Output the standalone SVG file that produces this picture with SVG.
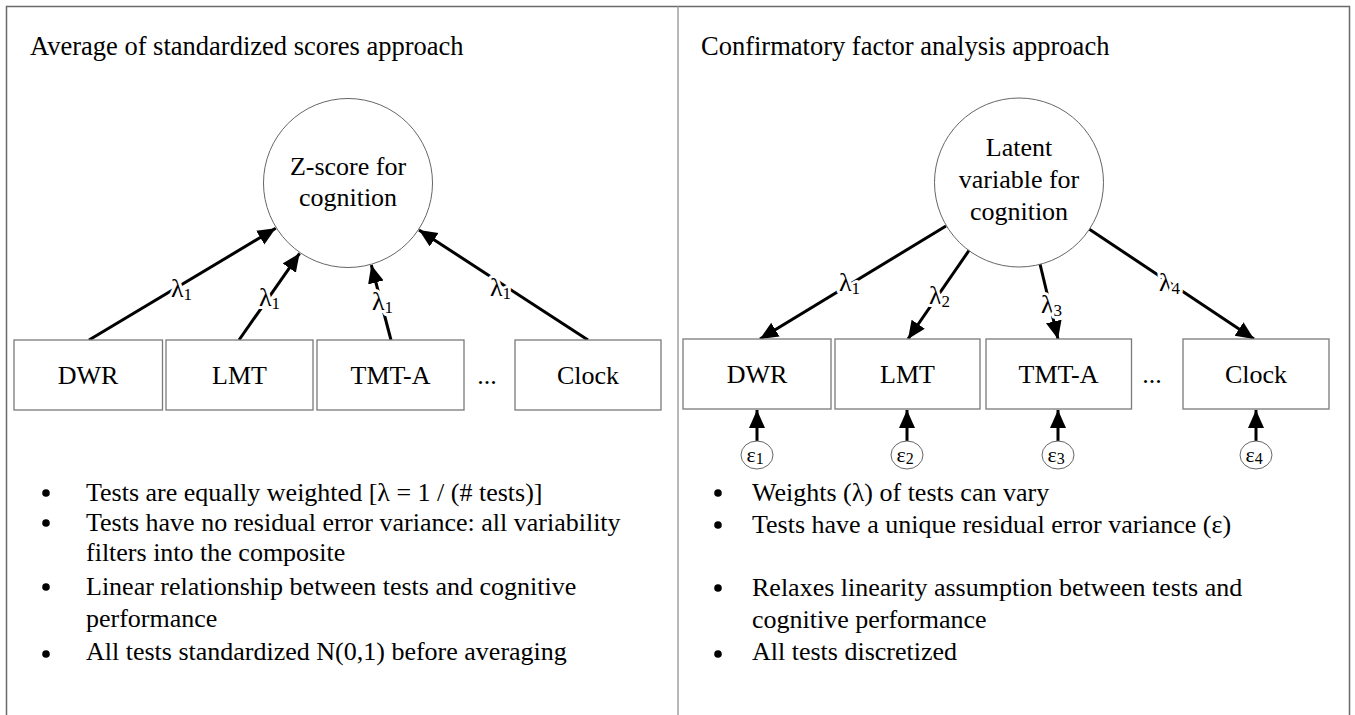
<svg xmlns="http://www.w3.org/2000/svg" width="1355" height="715" viewBox="0 0 1355 715">
<defs>
<style>
text{font-family:"Liberation Serif","Times New Roman",serif;fill:#000}
.t{font-size:26px}
.ttl{font-size:26.5px}
.lab{font-size:26px;text-anchor:middle}
.lam{font-size:26px;stroke:#fff;stroke-width:6px;paint-order:stroke;stroke-linejoin:round}
.eps{font-size:22px;text-anchor:middle}
.box{fill:#fff;stroke:#7a7a7a;stroke-width:1.3}
.circ{fill:#fff;stroke:#666;stroke-width:1}
.edge{stroke:#000;stroke-width:3;fill:none;marker-end:url(#ah)}
.frame{stroke:#6a6a6a;stroke-width:1.5;fill:none}
</style>
<marker id="ah" markerUnits="userSpaceOnUse" markerWidth="20" markerHeight="18" refX="18" refY="8" orient="auto">
<path d="M0,0 L18,8 L0,16 z" fill="#000"/>
</marker>
</defs>
<rect width="1355" height="715" fill="#fff"/>
<g id="frame">
<path class="frame" d="M6.5,715 V6.5 H1349.5 V715"/>
<line x1="678" y1="6.5" x2="678" y2="715" stroke="#a0a0a0" stroke-width="1.5"/>
</g>
<g id="titles">
<text class="ttl" x="30" y="55">Average of standardized scores approach</text>
<text class="ttl" x="701" y="55">Confirmatory factor analysis approach</text>
</g>
<g id="connectors">
<line class="edge" x1="89" y1="340" x2="275.7" y2="228.3"/>
<line class="edge" x1="239" y1="340" x2="299.6" y2="253.3"/>
<line class="edge" x1="391" y1="340" x2="371.3" y2="265"/>
<line class="edge" x1="588" y1="340" x2="419" y2="230"/>
<line class="edge" x1="946" y1="226" x2="760" y2="339"/>
<line class="edge" x1="970" y1="249" x2="908" y2="339"/>
<line class="edge" x1="1040" y1="264" x2="1058" y2="339"/>
<line class="edge" x1="1089" y1="229" x2="1254" y2="339"/>
<line class="edge" x1="757" y1="441" x2="757" y2="410"/>
<line class="edge" x1="907" y1="441" x2="907" y2="410"/>
<line class="edge" x1="1058" y1="441" x2="1058" y2="410"/>
<line class="edge" x1="1256" y1="441" x2="1256" y2="410"/>
<text class="lam" x="171" y="297">λ<tspan font-size="17" dy="3">1</tspan></text>
<text class="lam" x="259" y="306">λ<tspan font-size="17" dy="3">1</tspan></text>
<text class="lam" x="372" y="310">λ<tspan font-size="17" dy="3">1</tspan></text>
<text class="lam" x="490" y="296">λ<tspan font-size="17" dy="3">1</tspan></text>
<text class="lam" x="839" y="291">λ<tspan font-size="17" dy="3">1</tspan></text>
<text class="lam" x="929" y="304">λ<tspan font-size="17" dy="3">2</tspan></text>
<text class="lam" x="1041" y="313">λ<tspan font-size="17" dy="3">3</tspan></text>
<text class="lam" x="1159" y="291">λ<tspan font-size="17" dy="3">4</tspan></text>
</g>
<g id="node-zscore">
<circle class="circ" cx="348" cy="183" r="84.5"/>
<text class="lab" x="348" y="175">Z-score for</text>
<text class="lab" x="348" y="206">cognition</text>
</g>
<g id="node-latent">
<circle class="circ" cx="1019" cy="182.5" r="84.5"/>
<text class="lab" x="1019" y="156">Latent</text>
<text class="lab" x="1019" y="188">variable for</text>
<text class="lab" x="1019" y="220">cognition</text>
</g>
<g id="node-dwr-l"><rect class="box" x="14" y="340" width="148.5" height="70"/><text class="lab" x="88" y="384">DWR</text></g>
<g id="node-lmt-l"><rect class="box" x="166" y="340" width="147" height="70"/><text class="lab" x="239.5" y="384">LMT</text></g>
<g id="node-tmta-l"><rect class="box" x="317" y="340" width="147" height="70"/><text class="lab" x="390.5" y="384">TMT-A</text></g>
<g id="dots-l"><text class="lab" x="487" y="384">...</text></g>
<g id="node-clock-l"><rect class="box" x="515" y="340" width="146" height="70"/><text class="lab" x="588" y="384">Clock</text></g>
<g id="node-dwr-r"><rect class="box" x="683" y="339" width="148" height="70"/><text class="lab" x="757" y="383">DWR</text></g>
<g id="node-lmt-r"><rect class="box" x="835" y="339" width="145" height="70"/><text class="lab" x="907.5" y="383">LMT</text></g>
<g id="node-tmta-r"><rect class="box" x="986" y="339" width="145.5" height="70"/><text class="lab" x="1058.5" y="383">TMT-A</text></g>
<g id="dots-r"><text class="lab" x="1152" y="383">...</text></g>
<g id="node-clock-r"><rect class="box" x="1183" y="339" width="146" height="70"/><text class="lab" x="1256" y="383">Clock</text></g>
<g id="node-e1"><ellipse class="circ" cx="757" cy="455" rx="16" ry="14"/><text class="eps" x="755" y="462">ε<tspan font-size="16" dy="2">1</tspan></text></g>
<g id="node-e2"><ellipse class="circ" cx="907" cy="455" rx="16" ry="14"/><text class="eps" x="905" y="462">ε<tspan font-size="16" dy="2">2</tspan></text></g>
<g id="node-e3"><ellipse class="circ" cx="1058" cy="455" rx="16" ry="14"/><text class="eps" x="1056" y="462">ε<tspan font-size="16" dy="2">3</tspan></text></g>
<g id="node-e4"><ellipse class="circ" cx="1256" cy="455" rx="16" ry="14"/><text class="eps" x="1254" y="462">ε<tspan font-size="16" dy="2">4</tspan></text></g>
<g id="bullets-left">
<circle cx="46" cy="493" r="3.8"/><circle cx="46" cy="523" r="3.8"/><circle cx="46" cy="587" r="3.8"/><circle cx="46" cy="654" r="3.8"/>
<text class="t" x="86" y="501">Tests are equally weighted [λ = 1 / (# tests)]</text>
<text class="t" x="86" y="531">Tests have no residual error variance: all variability</text>
<text class="t" x="86" y="561">filters into the composite</text>
<text class="t" x="86" y="595">Linear relationship between tests and cognitive</text>
<text class="t" x="86" y="627">performance</text>
<text class="t" x="86" y="660">All tests standardized N(0,1) before averaging</text>
</g>
<g id="bullets-right">
<circle cx="718" cy="493" r="3.8"/><circle cx="718" cy="525" r="3.8"/><circle cx="718" cy="588" r="3.8"/><circle cx="718" cy="654" r="3.8"/>
<text class="t" x="752" y="501">Weights (λ) of tests can vary</text>
<text class="t" x="752" y="533">Tests have a unique residual error variance (ε)</text>
<text class="t" x="752" y="596">Relaxes linearity assumption between tests and</text>
<text class="t" x="752" y="628">cognitive performance</text>
<text class="t" x="752" y="660">All tests discretized</text>
</g>
</svg>
